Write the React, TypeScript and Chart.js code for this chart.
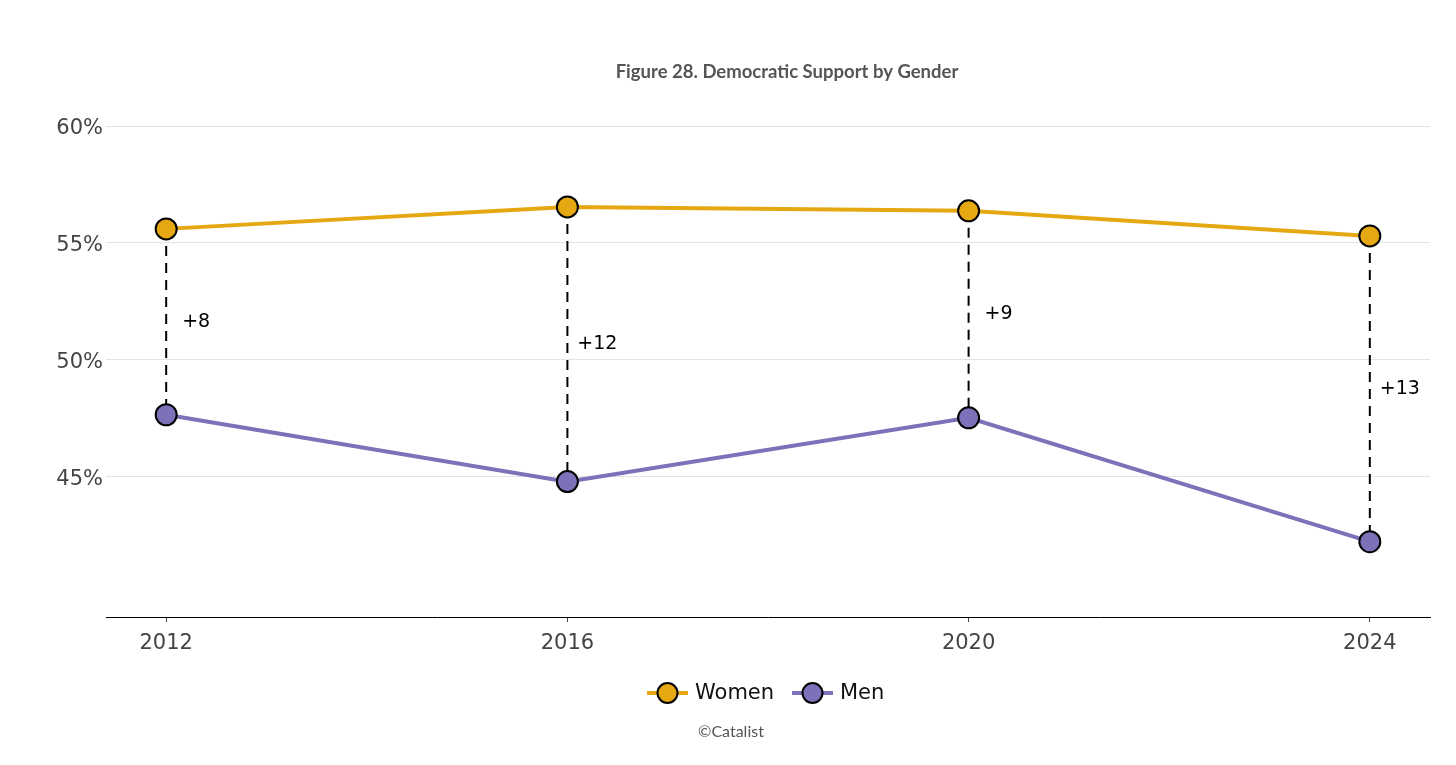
import React, { useEffect, useRef } from "react";
import { Chart, registerables } from "chart.js";

Chart.register(...registerables);

const years = [2012, 2016, 2020, 2024];
const women = [55.6, 56.54, 56.37, 55.3];
const men = [47.65, 44.79, 47.52, 42.22];
const gapLabels = ["+8", "+12", "+9", "+13"];
const yTicks = [45, 50, 55, 60];
const seriesNames = ["Women", "Men"];
const titleText = "Figure 28. Democratic Support by Gender";
const captionText = "©Catalist";

const GOLD = "#E6A812";
const PURPLE = "#7B72BA";

export default function App() {
  const ref = useRef<HTMLCanvasElement | null>(null);

  useEffect(() => {
    if (!ref.current) return;
    document.body.style.margin = "0";

    const overlay = {
      id: "overlay",
      beforeDatasetsDraw(chart: any) {
        const ctx = chart.ctx;
        const xs = chart.scales.x;
        const ys = chart.scales.y;
        ctx.save();
        ctx.strokeStyle = "#000";
        ctx.lineWidth = 2;
        ctx.setLineDash([10, 7]);
        years.forEach((yr, i) => {
          const x = xs.getPixelForValue(yr);
          ctx.beginPath();
          ctx.moveTo(x, ys.getPixelForValue(women[i]));
          ctx.lineTo(x, ys.getPixelForValue(men[i]));
          ctx.stroke();
        });
        ctx.restore();
      },
      afterDraw(chart: any) {
        const ctx = chart.ctx;
        const xs = chart.scales.x;
        const ys = chart.scales.y;
        ctx.save();
        // y tick labels
        ctx.fillStyle = "#444";
        ctx.font = "21px 'DejaVu Sans'";
        ctx.textAlign = "right";
        ctx.textBaseline = "middle";
        yTicks.forEach((v) => {
          ctx.fillText(v + "%", chart.chartArea.left - 3, ys.getPixelForValue(v) + 3);
        });
        // gap labels
        ctx.fillStyle = "#000";
        ctx.font = "19px 'DejaVu Sans'";
        ctx.textAlign = "center";
        years.forEach((yr, i) => {
          const x = xs.getPixelForValue(yr);
          const y = (ys.getPixelForValue(women[i]) + ys.getPixelForValue(men[i])) / 2;
          ctx.fillText(gapLabels[i], x + 30, y);
        });
        // title
        ctx.fillStyle = "#555";
        ctx.font = "bold 18.5px Lato";
        ctx.textBaseline = "alphabetic";
        ctx.fillText(titleText, 787, 78);
        // caption
        ctx.font = "16px Lato";
        ctx.textBaseline = "middle";
        ctx.fillText(captionText, 731, 732);
        // legend
        const colors = [GOLD, PURPLE];
        const starts = [647, 792];
        ctx.textAlign = "left";
        seriesNames.forEach((name, i) => {
          const lx = starts[i];
          const ly = 693;
          ctx.strokeStyle = colors[i];
          ctx.lineWidth = 4;
          ctx.beginPath();
          ctx.moveTo(lx, ly);
          ctx.lineTo(lx + 41, ly);
          ctx.stroke();
          ctx.beginPath();
          ctx.arc(lx + 20.5, ly, 10, 0, Math.PI * 2);
          ctx.fillStyle = colors[i];
          ctx.fill();
          ctx.lineWidth = 2;
          ctx.strokeStyle = "#000";
          ctx.stroke();
          ctx.fillStyle = "#111";
          ctx.font = "21px 'DejaVu Sans'";
          ctx.fillText(name, lx + 48, ly + 1);
        });
        ctx.restore();
      },
    };

    const mk = (vals: number[]) => years.map((x, i) => ({ x, y: vals[i] }));

    const ds = (label: string, vals: number[], color: string) => ({
      label,
      data: mk(vals),
      borderColor: color,
      backgroundColor: color,
      borderWidth: 4,
      pointRadius: 10.5,
      pointBorderWidth: 2,
      pointBorderColor: "#000",
      pointBackgroundColor: color,
      tension: 0,
    });

    const chart = new Chart(ref.current, {
      type: "line",
      data: {
        datasets: [ds(seriesNames[0], women, GOLD), ds(seriesNames[1], men, PURPLE)],
      },
      options: {
        responsive: false,
        animation: false,
        devicePixelRatio: 1,
        layout: { padding: { left: 0, right: 26, top: 126, bottom: 108 } },
        plugins: {
          legend: { display: false },
          tooltip: { enabled: false },
          title: { display: false },
        },
        scales: {
          x: {
            type: "linear",
            min: 2011.4,
            max: 2024.6,
            afterBuildTicks: (s: any) => {
              s.ticks = years.map((v) => ({ value: v }));
            },
            afterFit: (s: any) => {
              s.height = 40;
            },
            grid: {
              drawOnChartArea: false,
              drawTicks: true,
              tickLength: 5,
              color: "#444",
            },
            border: { display: true, color: "#000", width: 1 },
            ticks: {
              padding: 9,
              color: "#444",
              font: { family: "'DejaVu Sans'", size: 21 },
              callback: (v: any) => String(v),
              maxRotation: 0,
            },
          },
          y: {
            type: "linear",
            min: 39,
            max: 60,
            afterBuildTicks: (s: any) => {
              s.ticks = yTicks.map((v) => ({ value: v }));
            },
            afterFit: (s: any) => {
              s.width = 106;
            },
            grid: { color: "#e4e4e4", lineWidth: 1, drawTicks: false },
            border: { display: false },
            ticks: { display: false },
          },
        },
      },
      plugins: [overlay],
    });

    return () => chart.destroy();
  }, []);

  return (
    <div style={{ position: "absolute", left: 0, top: 0, width: 1456, height: 765, background: "#fff" }}>
      <canvas ref={ref} width={1456} height={765} style={{ width: 1456, height: 765 }} />
    </div>
  );
}
